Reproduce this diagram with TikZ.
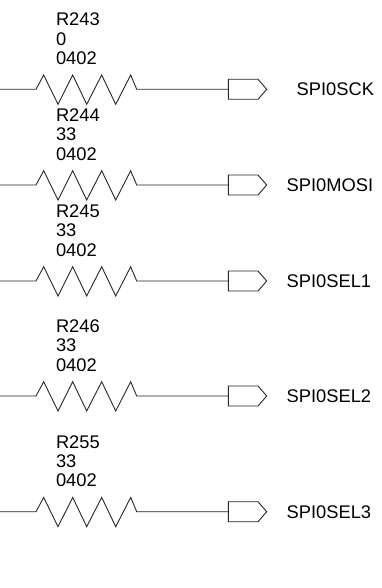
\documentclass[tikz,border=0pt]{standalone}
\usepackage{fontspec}
\setmainfont{Liberation Sans}
\tikzset{
  wire/.style={line width=0.9pt,draw=black!85,line join=miter},
  refdes/.style={inner sep=0pt,outer sep=0pt,align=left,anchor=base west,font=\fontsize{18.3}{19.4}\selectfont},
  netname/.style={inner sep=0pt,outer sep=0pt,anchor=base west,font=\fontsize{18.3}{20}\selectfont},
}
\newcommand{\resrow}[6]{%
  \coordinate (w#1) at (0,#2);
  \coordinate (ra#1) at (36,#2);
  \coordinate (rb#1) at (136.7,#2);
  \coordinate (p#1) at (228.3,#2);
  \node[refdes] (d#1) at (56,#2-63.3) {#3};
  \node[refdes] (v#1) at (56,#2-44.2) {#4};
  \node[refdes] (f#1) at (56,#2-24.8) {0402};
  \node[netname] (n#1) at (#6,#2+6.7) {#5};
  \draw[wire] (w#1) -- (ra#1) -- (43.7,#2-14.3) -- (58,#2+15) -- (72.7,#2-14.3) -- (86.7,#2+15) -- (101.7,#2-14.3) -- (115.7,#2+15) -- (130.7,#2-14.3) -- (rb#1) -- (p#1);
  \draw[wire] (p#1) -- (228.3,#2-10) -- (258,#2-10) -- (266.7,#2) -- (258,#2+10) -- (228.3,#2+10) -- cycle;
}
\begin{document}
\begin{tikzpicture}[x=1pt,y=-1pt]
\useasboundingbox (0,0) rectangle (382,588);
\resrow{a}{89.3}{R243}{0}{SPI0SCK}{296.7}
\resrow{b}{185}{R244}{33}{SPI0MOSI}{286.7}
\resrow{c}{281}{R245}{33}{SPI0SEL1}{286.7}
\resrow{d}{396}{R246}{33}{SPI0SEL2}{286.7}
\resrow{e}{511.7}{R255}{33}{SPI0SEL3}{286.7}
\end{tikzpicture}
\end{document}
